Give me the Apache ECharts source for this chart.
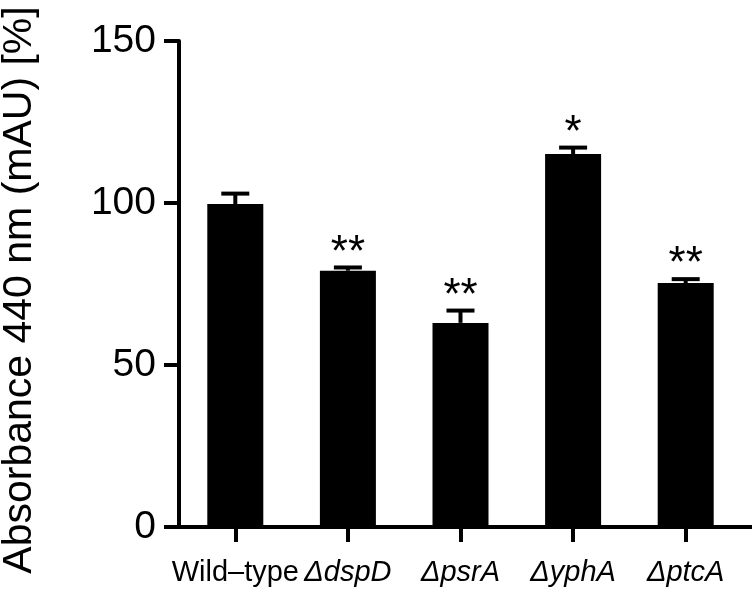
<!DOCTYPE html>
<html>
<head>
<meta charset="utf-8">
<script src="https://cdn.jsdelivr.net/npm/echarts@6/dist/echarts.min.js"></script>
<style>html,body{margin:0;padding:0;background:#fff}#c{width:752px;height:593px}</style>
</head>
<body>
<div id="c"></div>
<script>
const categories = ['Wild–type', 'ΔdspD', 'ΔpsrA', 'ΔyphA', 'ΔptcA'];
const means = [99.7, 79.1, 63.0, 115.1, 75.3];
const errors = [3.2, 1.0, 3.8, 2.0, 1.2];
const significance = ['', '**', '**', '*', '**'];
const yTicks = [0, 50, 100, 150];

const FONT = 'Liberation Sans, Arial, Helvetica, sans-serif';
const chart = echarts.init(document.getElementById('c'), null, {renderer: 'canvas'});

const errData = categories.map((c, i) => [i, means[i], errors[i]]);

chart.setOption({
  animation: false,
  backgroundColor: '#fff',
  grid: [
    {left: 179, right: 10, top: 41, bottom: 66, containLabel: false, outerBoundsMode: 'none'},
    {left: 179, right: 0, top: 41, bottom: 66, containLabel: false, outerBoundsMode: 'none'}
  ],
  xAxis: [{
    type: 'category',
    data: categories,
    gridIndex: 0,
    axisLine: {show: true, lineStyle: {color: '#000', width: 4}},
    axisTick: {show: true, alignWithLabel: true, length: 15, lineStyle: {color: '#000', width: 4}},
    axisLabel: {
      interval: 0,
      margin: 31,
      color: '#000',
      fontFamily: FONT,
      fontSize: 29,
      hideOverlap: false,
      formatter: function (v) {
        if (v.charAt(0) === 'Δ') return '{d|Δ}{i|' + v.slice(1) + '}';
        return v;
      },
      rich: {
        d: {fontFamily: FONT, fontSize: 29, fontStyle: 'italic', fontWeight: 'lighter', color: '#000'},
        i: {fontFamily: FONT, fontSize: 29, fontStyle: 'italic', color: '#000'}
      }
    },
    splitLine: {show: false}
  }, {
    type: 'value',
    gridIndex: 1,
    min: 0, max: 1,
    axisLine: {show: true, lineStyle: {color: '#000', width: 4}},
    axisTick: {show: false},
    axisLabel: {show: false},
    splitLine: {show: false}
  }],
  yAxis: [{
    type: 'value',
    gridIndex: 0,
    min: yTicks[0],
    max: yTicks[yTicks.length - 1],
    interval: yTicks[1] - yTicks[0],
    name: 'Absorbance 440 nm (mAU) [%]',
    nameLocation: 'middle',
    nameGap: 139,
    nameTextStyle: {fontFamily: FONT, fontSize: 41, color: '#000', padding: [0, 12, 0, 0]},
    axisLine: {show: true, lineStyle: {color: '#000', width: 4}},
    axisTick: {show: true, length: 15, lineStyle: {color: '#000', width: 4}},
    axisLabel: {margin: 23, color: '#000', fontFamily: FONT, fontSize: 39},
    splitLine: {show: false}
  }, {
    type: 'value', gridIndex: 1, show: false, min: 0, max: 1
  }],
  series: [{
    type: 'bar',
    data: means,
    barWidth: 56,
    itemStyle: {color: '#000'},
    xAxisIndex: 0, yAxisIndex: 0
  }, {
    type: 'custom',
    xAxisIndex: 0, yAxisIndex: 0,
    data: errData,
    renderItem: function (params, api) {
      const i = api.value(0), m = api.value(1), e = api.value(2);
      const base = api.coord([i, m]);
      const top = api.coord([i, m + e]);
      const half = 14;
      const children = [
        {type: 'line', shape: {x1: base[0], y1: base[1], x2: top[0], y2: top[1]}, style: {stroke: '#000', lineWidth: 4}},
        {type: 'line', shape: {x1: top[0] - half, y1: top[1], x2: top[0] + half, y2: top[1]}, style: {stroke: '#000', lineWidth: 4}}
      ];
      const s = significance[params.dataIndex];
      if (s) {
        children.push({type: 'text', style: {text: s, x: top[0], y: top[1] - 14, align: 'center', verticalAlign: 'middle', fontFamily: FONT, fontSize: 44, fill: '#000'}});
      }
      return {type: 'group', children: children};
    }
  }]
});
</script>
</body>
</html>
